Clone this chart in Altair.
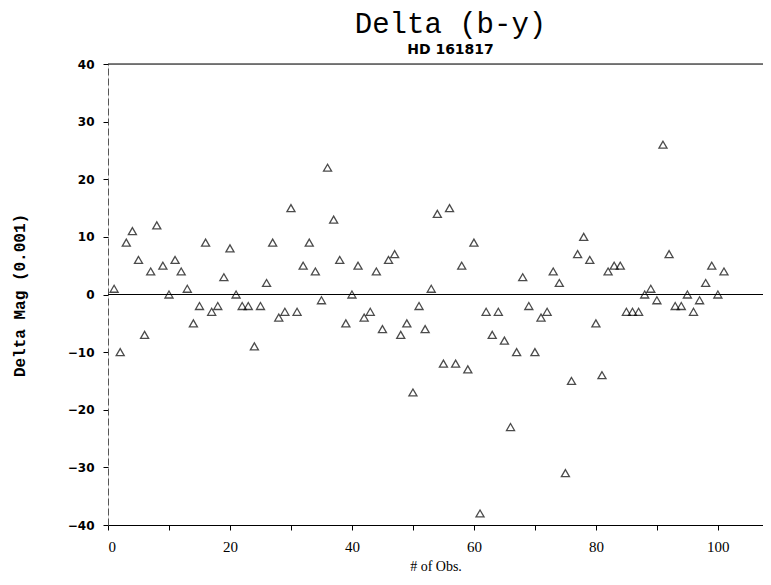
import altair as alt
import pandas as pd

obs = list(range(1, 102))
delta_mag = [
    1, -10, 9, 11, 6, -7, 4, 12, 5, 0,
    6, 4, 1, -5, -2, 9, -3, -2, 3, 8,
    0, -2, -2, -9, -2, 2, 9, -4, -3, 15,
    -3, 5, 9, 4, -1, 22, 13, 6, -5, 0,
    5, -4, -3, 4, -6, 6, 7, -7, -5, -17,
    -2, -6, 1, 14, -12, 15, -12, 5, -13, 9,
    -38, -3, -7, -3, -8, -23, -10, 3, -2, -10,
    -4, -3, 4, 2, -31, -15, 7, 10, 6, -5,
    -14, 4, 5, 5, -3, -3, -3, 0, 1, -1,
    26, 7, -2, -2, 0, -3, -1, 2, 5, 0,
    4,
]
x_ticks = list(range(0, 101, 10))
y_ticks = list(range(-40, 41, 10))
ref_lines = [0, 40]

df = pd.DataFrame({"obs": obs, "delta": delta_mag})
lines = pd.DataFrame({"y": ref_lines})

xscale = alt.Scale(domain=[0, 107.4], nice=False, zero=False)
yscale = alt.Scale(domain=[-40, 40], nice=False)

xaxis = alt.Axis(
    values=x_ticks,
    labelExpr="datum.value % 20 == 0 ? datum.label : ''",
    labelFont="Liberation Serif", labelFontSize=15, labelColor="black",
    labelPadding=9, tickSize=5, tickColor="black", domainColor="black",
    grid=False, title="# of Obs.", titleFont="Liberation Serif",
    titleFontSize=14, titleFontWeight="normal", titleColor="black",
    titlePadding=5,
)
yaxis = alt.Axis(
    values=y_ticks,
    labelFont="DejaVu Sans", labelFontSize=12, labelFontWeight="bold",
    labelColor="black", labelPadding=9, tickSize=5, tickColor="black",
    domainColor="#555555", domainDash=[7, 3], grid=False,
    title="Delta Mag (0.001)", titleFont="Liberation Mono",
    titleFontSize=16, titleFontWeight="bold", titleColor="black",
    titleAngle=270, titleAlign="center", titleBaseline="middle",
    titleX=-89, titleY=231,
)

points = alt.Chart(df).mark_point(
    shape="triangle-up", filled=False, color="black", size=65, strokeWidth=1.3
).encode(
    x=alt.X("obs:Q", scale=xscale, axis=xaxis),
    y=alt.Y("delta:Q", scale=yscale, axis=yaxis),
)

rules = alt.Chart(lines).mark_rule(color="black", strokeWidth=1.2).encode(
    y=alt.Y("y:Q", scale=yscale)
)

chart = alt.layer(rules, points).properties(
    width=655,
    height=461,
    autosize=alt.AutoSizeParams(type="none"),
    padding={"left": 100, "top": 56, "right": 0, "bottom": 50},
    title=alt.TitleParams(
        "Delta (b-y)",
        subtitle="HD 161817",
        font="Liberation Mono", fontSize=29, fontWeight="normal", color="black",
        subtitleFont="DejaVu Sans", subtitleFontSize=14,
        subtitleFontWeight="bold", subtitleColor="black",
        anchor="middle", dx=15, offset=1, subtitlePadding=4,
    ),
).configure_view(stroke=None).configure(background="white")

chart.save("out.html", embed_options={"renderer": "svg", "actions": False})
